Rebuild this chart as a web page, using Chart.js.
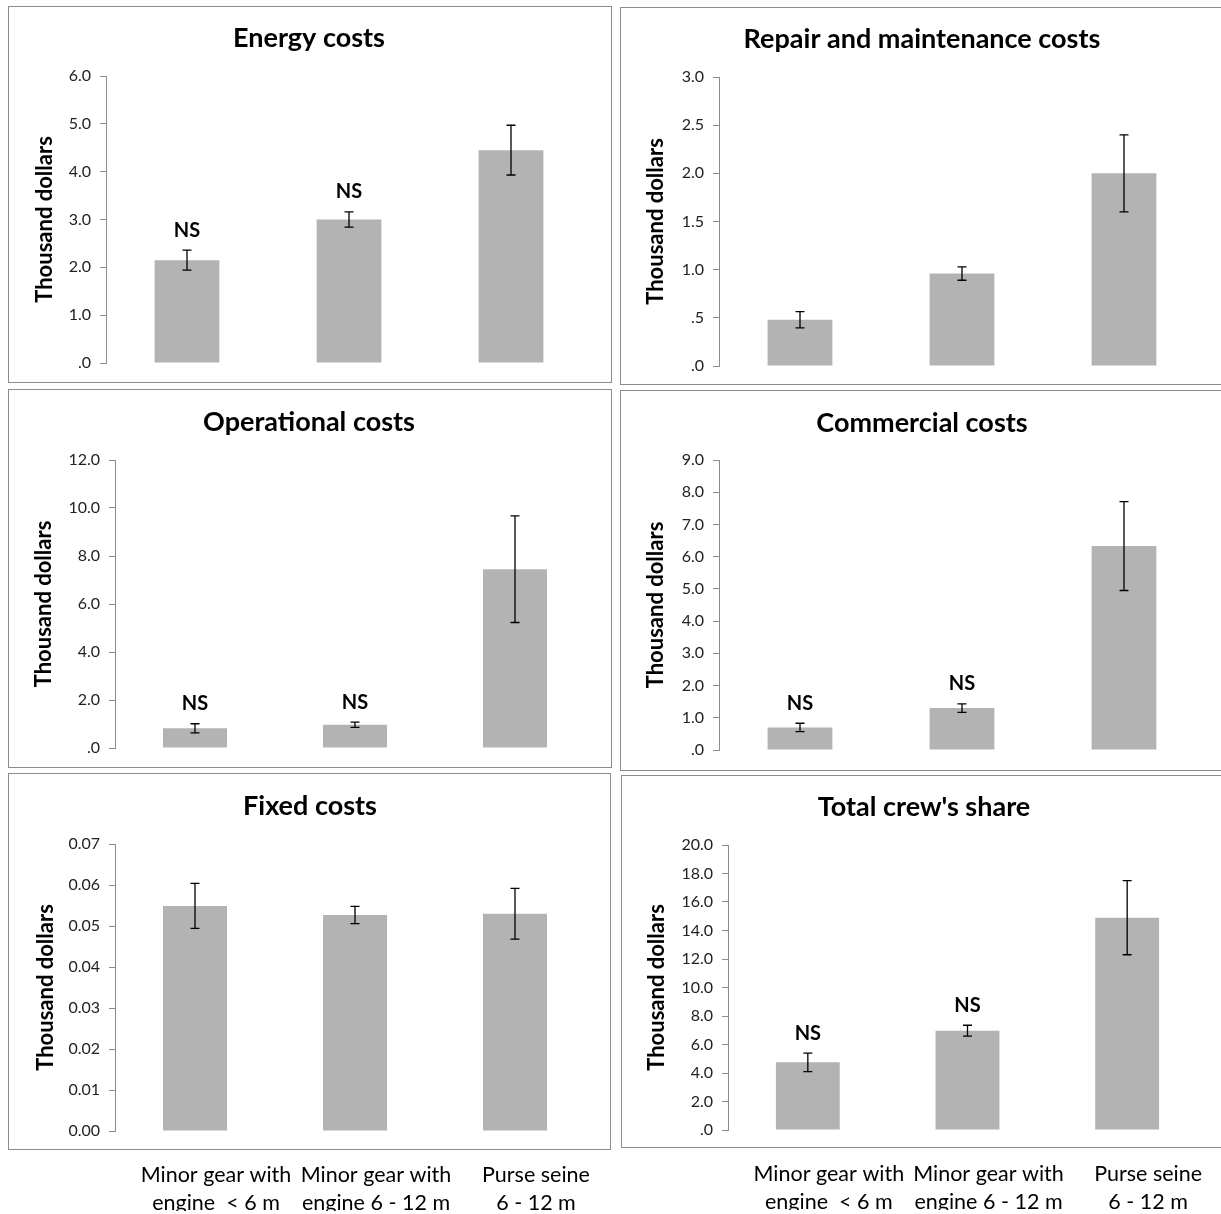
<!DOCTYPE html>
<html>
<head>
<meta charset="utf-8">
<script src="https://cdn.jsdelivr.net/npm/chart.js@4.4.1/dist/chart.umd.min.js"></script>
<style>
html, body { margin: 0; padding: 0; background: #fff; overflow: hidden; width: 1221px; height: 1214px; }
.frame { position: absolute; box-sizing: border-box; border: 1.5px solid #8c8c8c; }
.box { position: absolute; }
</style>
</head>
<body>
<script>
// ---- data ----
const categories = [
    ['Minor gear with', 'engine  < 6 m'],
    ['Minor gear with', 'engine 6 - 12 m'],
    ['Purse seine', '6 - 12 m']
];

const energyMeans = [2.15, 3.0, 4.45];
const energyErrors = [0.21, 0.16, 0.52];
const energyMarks = ['NS', 'NS', ''];
const energyTicks = ['.0', '1.0', '2.0', '3.0', '4.0', '5.0', '6.0'];

const repairMeans = [0.48, 0.96, 2.0];
const repairErrors = [0.085, 0.07, 0.40];
const repairMarks = ['', '', ''];
const repairTicks = ['.0', '.5', '1.0', '1.5', '2.0', '2.5', '3.0'];

const operationalMeans = [0.82, 0.97, 7.45];
const operationalErrors = [0.19, 0.11, 2.22];
const operationalMarks = ['NS', 'NS', ''];
const operationalTicks = ['.0', '2.0', '4.0', '6.0', '8.0', '10.0', '12.0'];

const commercialMeans = [0.70, 1.30, 6.33];
const commercialErrors = [0.13, 0.13, 1.38];
const commercialMarks = ['NS', 'NS', ''];
const commercialTicks = ['.0', '1.0', '2.0', '3.0', '4.0', '5.0', '6.0', '7.0', '8.0', '9.0'];

const fixedMeans = [0.0549, 0.0527, 0.0530];
const fixedErrors = [0.0055, 0.0021, 0.0062];
const fixedMarks = ['', '', ''];
const fixedTicks = ['0.00', '0.01', '0.02', '0.03', '0.04', '0.05', '0.06', '0.07'];

const crewMeans = [4.75, 6.97, 14.9];
const crewErrors = [0.65, 0.38, 2.6];
const crewMarks = ['NS', 'NS', ''];
const crewTicks = ['.0', '2.0', '4.0', '6.0', '8.0', '10.0', '12.0', '14.0', '16.0', '18.0', '20.0'];

const FONT = 'Lato, "Open Sans", sans-serif';

// draws the error bars and the NS marks over the bars
const errorBarPlugin = {
    id: 'errorBars',
    afterDatasetsDraw(chart, args, opts) {
        const ctx = chart.ctx;
        const ys = chart.scales.y;
        const vals = chart.data.datasets[0].data;
        ctx.save();
        ctx.strokeStyle = '#000';
        ctx.lineWidth = 1.3;
        ctx.fillStyle = '#000';
        ctx.font = 'bold 20px ' + FONT;
        ctx.textAlign = 'center';
        ctx.textBaseline = 'middle';
        chart.getDatasetMeta(0).data.forEach((bar, i) => {
            const top = ys.getPixelForValue(vals[i] + opts.errors[i]);
            const bot = ys.getPixelForValue(vals[i] - opts.errors[i]);
            ctx.beginPath();
            ctx.moveTo(bar.x, top); ctx.lineTo(bar.x, bot);
            ctx.moveTo(bar.x - 4.5, top); ctx.lineTo(bar.x + 4.5, top);
            ctx.moveTo(bar.x - 4.5, bot); ctx.lineTo(bar.x + 4.5, bot);
            ctx.stroke();
            if (opts.marks[i]) ctx.fillText(opts.marks[i], bar.x, top - 20);
        });
        ctx.restore();
    }
};

// panel heading, placed on the canvas
const headingPlugin = {
    id: 'heading',
    afterDraw(chart, args, opts) {
        const ctx = chart.ctx;
        ctx.save();
        ctx.fillStyle = '#000';
        ctx.font = 'bold 27px ' + FONT;
        ctx.textAlign = 'center';
        ctx.textBaseline = 'middle';
        ctx.fillText(opts.text, opts.x, opts.y);
        ctx.restore();
    }
};

const panels = [
    { title: 'Energy costs', means: energyMeans, errors: energyErrors, marks: energyMarks, ticks: energyTicks, max: 6, step: 1,
      frame: [8, 6, 604, 377], area: [106, 592, 76, 363], yTitleX: 45, head: [309, 38] },
    { title: 'Repair and maintenance costs', means: repairMeans, errors: repairErrors, marks: repairMarks, ticks: repairTicks, max: 3, step: 0.5,
      frame: [620, 7, 606, 378], area: [719, 1205, 77, 366], yTitleX: 656, head: [922, 39] },
    { title: 'Operational costs', means: operationalMeans, errors: operationalErrors, marks: operationalMarks, ticks: operationalTicks, max: 12, step: 2,
      frame: [8, 389, 604, 379], area: [115, 595, 460, 748], yTitleX: 44, head: [309, 422] },
    { title: 'Commercial costs', means: commercialMeans, errors: commercialErrors, marks: commercialMarks, ticks: commercialTicks, max: 9, step: 1,
      frame: [620, 390, 606, 381], area: [719, 1205, 460, 750], yTitleX: 656, head: [922, 423] },
    { title: 'Fixed costs', means: fixedMeans, errors: fixedErrors, marks: fixedMarks, ticks: fixedTicks, max: 0.07, step: 0.01,
      frame: [8, 773, 603, 377], area: [115, 595, 844, 1131], yTitleX: 46, head: [310, 806], bottom: true },
    { title: "Total crew's share", means: crewMeans, errors: crewErrors, marks: crewMarks, ticks: crewTicks, max: 20, step: 2,
      frame: [621, 775, 606, 373], area: [728, 1207, 845, 1130], yTitleX: 657, head: [924, 807], bottom: true }
];

panels.forEach(p => {
    const [fx, fy, fw, fh] = p.frame;
    const frame = document.createElement('div');
    frame.className = 'frame';
    Object.assign(frame.style, { left: fx + 'px', top: fy + 'px', width: fw + 'px', height: fh + 'px' });
    document.body.appendChild(frame);

    const ch = p.bottom ? 1224 - fy : fh;
    const box = document.createElement('div');
    box.className = 'box';
    Object.assign(box.style, { left: fx + 'px', top: fy + 'px', width: fw + 'px', height: ch + 'px' });
    const canvas = document.createElement('canvas');
    box.appendChild(canvas);
    document.body.appendChild(box);

    const [al, ar, at, ab] = p.area;
    const padLeft = 4;
    const yTitleSize = 22, yTitleLine = 26;
    const xAxisH = p.bottom ? 80 : 0;

    new Chart(canvas, {
        type: 'bar',
        data: {
            labels: categories,
            datasets: [{
                data: p.means,
                backgroundColor: '#b3b3b3',
                borderWidth: 0,
                categoryPercentage: 1,
                barPercentage: 0.4
            }]
        },
        options: {
            responsive: true,
            maintainAspectRatio: false,
            animation: false,
            events: [],
            layout: {
                padding: {
                    left: padLeft,
                    right: fx + fw - ar,
                    top: at - fy,
                    bottom: fy + ch - ab - xAxisH
                }
            },
            plugins: {
                legend: { display: false },
                tooltip: { enabled: false },
                errorBars: { errors: p.errors, marks: p.marks },
                heading: { text: p.title, x: p.head[0] - fx, y: p.head[1] - fy }
            },
            scales: {
                x: {
                    display: !!p.bottom,
                    grid: { display: false },
                    border: { display: false },
                    ticks: {
                        color: '#000',
                        font: { family: FONT, size: 21.5, lineHeight: 28 / 21.5 },
                        padding: 22,
                        labelOffset: 21,
                        maxRotation: 0,
                        autoSkip: false
                    },
                    afterFit(s) { s.height = xAxisH; }
                },
                y: {
                    min: 0,
                    max: p.max,
                    ticks: {
                        stepSize: p.step,
                        color: '#222',
                        font: { family: FONT, size: 16 },
                        padding: 9,
                        callback: (v, i) => p.ticks[i]
                    },
                    grid: { drawOnChartArea: false, drawTicks: true, tickLength: 6, color: '#8c8c8c' },
                    border: { color: '#8c8c8c', width: 1 },
                    title: {
                        display: true,
                        text: 'Thousand dollars',
                        color: '#000',
                        font: { family: FONT, size: yTitleSize, weight: 'bold', lineHeight: yTitleLine / yTitleSize },
                        padding: { top: p.yTitleX - fx - padLeft - yTitleLine / 2, bottom: 0 }
                    },
                    afterFit(s) { s.width = al - fx - padLeft; }
                }
            }
        },
        plugins: [errorBarPlugin, headingPlugin]
    });
});
</script>
</body>
</html>
